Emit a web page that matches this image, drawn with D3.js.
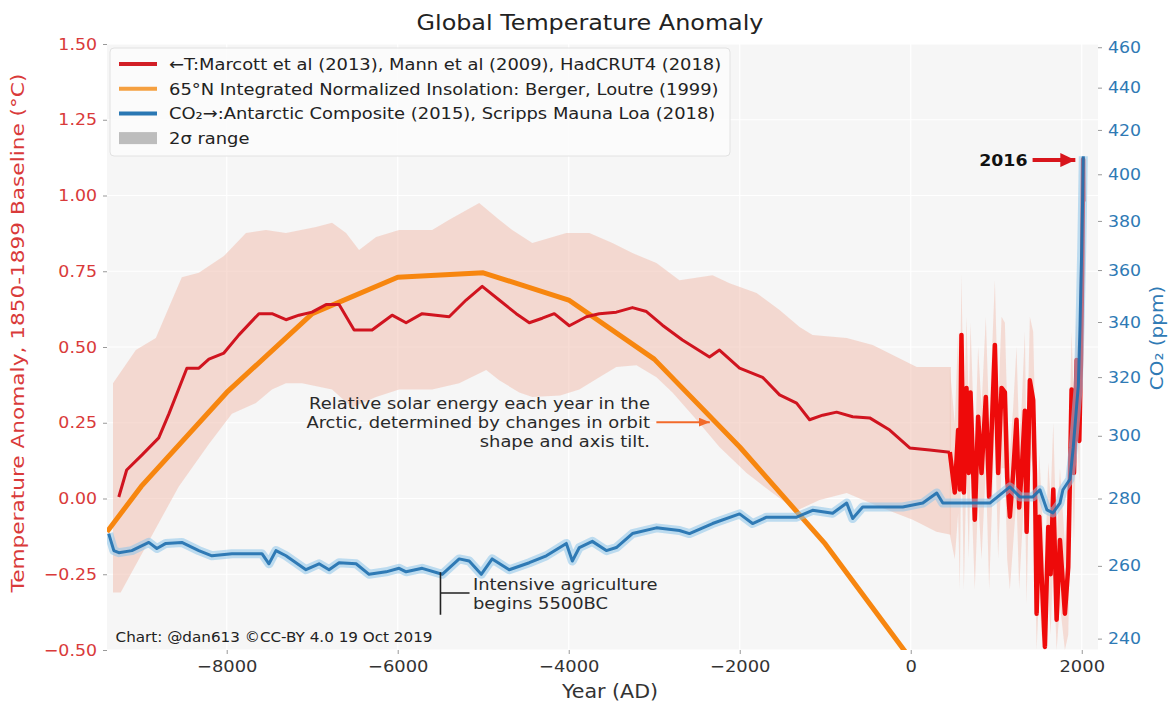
<!DOCTYPE html>
<html><head><meta charset="utf-8">
<script src="https://cdn.jsdelivr.net/npm/d3@7"></script>
<style>
body{margin:0;background:#fff;}
svg{display:block;font-family:"DejaVu Sans",sans-serif;}
</style>
</head><body>
<svg id="chart" width="1168" height="702"></svg>
<script>
// ---------------- DATA ----------------
const xDomain = [-9400, 2190];
const tempDomain = [-0.5, 1.5];
const xTicks = [-8000, -6000, -4000, -2000, 0, 2000];
const tempTicks = [-0.5, -0.25, 0, 0.25, 0.5, 0.75, 1.0, 1.25, 1.5];
const co2Ticks = [240, 260, 280, 300, 320, 340, 360, 380, 400, 420, 440, 460];

// Marcott et al (2013) temperature
const marcottYears = [-9262,-9170,-8990,-8795,-8675,-8466,-8325,-8208,-8033,-7857,-7623,-7470,-7307,-7155,-7002,-6838,-6686,-6510,-6300,-6066,-5902,-5714,-5398,-5200,-5012,-4813,-4614,-4461,-4309,-4169,-3993,-3794,-3642,-3443,-3255,-3091,-2904,-2670,-2354,-2237,-2002,-1733,-1534,-1335,-1183,-1030,-867,-679,-480,-246,-12,222,457];
const marcottTemp  = [0.005,0.094,0.144,0.20,0.28,0.43,0.43,0.46,0.48,0.54,0.61,0.61,0.59,0.605,0.615,0.64,0.64,0.556,0.556,0.605,0.58,0.61,0.60,0.655,0.70,0.655,0.61,0.58,0.595,0.61,0.57,0.60,0.61,0.615,0.63,0.617,0.572,0.523,0.467,0.49,0.43,0.40,0.342,0.315,0.26,0.275,0.285,0.27,0.266,0.226,0.167,0.16,0.153];

// Marcott 2-sigma band
const bandTopYears = [-9330,-9063,-8829,-8677,-8525,-8326,-8033,-7775,-7541,-7307,-6956,-6768,-6604,-6452,-6253,-5984,-5597,-5398,-5047,-4813,-4660,-4426,-4028,-3759,-3489,-3255,-2974,-2705,-2318,-2119,-1803,-1534,-1300,-1148,-749,-445,-164,70,470];
const bandTop      = [0.38,0.49,0.53,0.63,0.73,0.745,0.80,0.876,0.886,0.876,0.896,0.91,0.876,0.82,0.863,0.886,0.886,0.92,0.975,0.92,0.886,0.843,0.876,0.876,0.843,0.81,0.777,0.72,0.737,0.71,0.678,0.622,0.566,0.54,0.53,0.507,0.467,0.434,0.434];
const bandBotYears = [-9330,-9240,-8560,-8208,-7939,-7658,-7471,-7307,-7119,-6768,-6534,-6253,-5984,-5597,-5281,-4965,-4813,-4578,-4426,-4100,-3876,-3642,-3443,-3208,-2974,-2787,-2506,-2237,-1920,-1616,-1335,-1066,-749,-363,23,300,470];
const bandBot      = [-0.31,-0.31,0.04,0.18,0.28,0.315,0.36,0.38,0.38,0.36,0.30,0.335,0.36,0.36,0.38,0.424,0.39,0.35,0.335,0.34,0.36,0.40,0.434,0.44,0.40,0.35,0.26,0.17,0.084,0.018,-0.04,-0.005,0.018,-0.028,-0.07,-0.11,-0.12];

// Mann et al (2009) + HadCRUT4 (2018)
const recentYears = [457,515,554,574,593,621,652,679,699,749,788,828,878,917,984,1022,1062,1101,1128,1159,1198,1237,1268,1296,1335,1355,1393,1432,1452,1472,1503,1530,1569,1608,1636,1667,1706,1745,1803,1842,1881,1909,1940,1971,1990,2005,2016,2018];
const recentTemp  = [0.153,0.02,0.226,0.03,0.54,0.02,0.365,0.084,0.35,-0.07,0.27,0.084,0.335,0.005,0.507,0.084,0.365,0.35,0.07,-0.06,0.084,0.26,-0.03,0.084,0.29,-0.11,0.39,0.325,0.084,-0.38,-0.06,-0.25,-0.49,-0.094,-0.25,0.03,-0.40,-0.137,-0.38,-0.226,0.36,0.084,0.457,0.19,0.45,0.75,1.12,0.98];
const recentUpper = [0.43,0.25,0.55,0.30,0.74,0.25,0.60,0.30,0.58,0.15,0.50,0.30,0.60,0.25,0.72,0.30,0.60,0.58,0.30,0.15,0.30,0.50,0.20,0.30,0.55,0.12,0.60,0.55,0.30,-0.15,0.15,0.00,-0.25,0.12,0.00,0.25,-0.15,0.10,-0.15,0.00,0.55,0.30,0.60,0.35,0.50,0.80,1.15,1.02];
const recentLower = [-0.12,-0.20,-0.05,-0.30,0.20,-0.30,0.10,-0.20,0.10,-0.30,0.00,-0.20,0.10,-0.30,0.25,-0.20,0.10,0.10,-0.20,-0.30,-0.15,0.00,-0.30,-0.15,0.05,-0.35,0.15,0.10,-0.15,-0.50,-0.30,-0.45,-0.50,-0.30,-0.45,-0.20,-0.50,-0.35,-0.50,-0.45,0.15,-0.15,0.30,0.05,0.40,0.70,1.09,0.94];

// Berger & Loutre (1999) 65N insolation, in temperature-axis units
const insolYears = [-9400,-9000,-8000,-7000,-6000,-5000,-4000,-3000,-2000,-1000,0,1000];
const insolValue = [-0.11,0.04,0.35,0.61,0.73,0.745,0.655,0.46,0.17,-0.15,-0.53,-0.90];

// CO2 (ppm): Antarctic composite + Mauna Loa
const co2Years = [-9380,-9320,-9262,-9110,-8911,-8817,-8712,-8525,-8326,-8173,-7939,-7588,-7506,-7424,-7307,-7073,-6920,-6803,-6686,-6487,-6335,-6136,-5984,-5902,-5714,-5480,-5281,-5164,-5023,-4895,-4696,-4461,-4262,-4028,-3958,-3876,-3724,-3560,-3443,-3255,-2974,-2705,-2588,-2318,-2002,-1850,-1686,-1335,-1148,-913,-749,-679,-562,-363,-94,141,304,375,539,656,925,1159,1276,1429,1511,1593,1663,1745,1780,1862,1900,1940,1960,1980,2000,2010,2018];
const co2Values = [269.4,264.4,263.8,264.4,266.8,265.0,266.5,266.8,264.4,262.9,263.5,263.5,260.6,264.4,262.9,258.9,260.6,258.9,260.9,260.6,257.6,258.3,259.3,258.3,259.3,257.6,262.0,261.4,257.6,262.0,258.9,260.9,262.9,266.5,261.4,265.3,267.1,264.4,265.3,269.4,271.1,270.3,269.4,272.4,275.3,272.4,274.3,274.3,276.4,275.5,278.6,273.9,277.4,277.4,277.4,278.6,281.7,278.6,278.6,278.6,278.6,283.6,280.5,280.5,282.7,276.5,275.6,278.6,282.7,286,296,310,317,339,369,389,408];

// CO2 <-> temperature axis relation: T = K * ln(CO2 / BASE)
const CO2_BASE = 280, CO2_K = 3;

// Annotation texts and anchor points (data units: year, temperature)
const solarText = ["Relative solar energy each year in the", "Arctic, determined by changes in orbit", "shape and axis tilt."];
const solarAnchor = [-3050, 0.315];
const solarArrow = [-2975, -2350, 0.252];
const agriText = ["Intensive agriculture", "begins 5500BC"];
const agriBracket = [-5500, -0.243, -0.384, -0.312, -5160];
const agriAnchor = [-5120, -0.285];
const label2016 = [1365, 1.117];
const arrow2016 = [1425, 1925, 1.117];
const creditText = "Chart: @dan613 \u00A9CC-BY 4.0  19 Oct 2019";
const creditAnchor = [-9300, -0.457];

const legendItems = [
  {label: "\u2190T:Marcott et al (2013), Mann et al (2009), HadCRUT4 (2018)", type: "line", color: "#d21f26"},
  {label: "65\u00B0N Integrated Normalized Insolation: Berger, Loutre (1999)", type: "line", color: "#f5a040"},
  {label: "CO\u2082\u2192:Antarctic Composite (2015), Scripps Mauna Loa (2018)", type: "line", color: "#2a78b4"},
  {label: "2\u03C3 range", type: "patch", color: "#bdbdbd"}
];

// ---------------- DRAWING ----------------
const svg = d3.select("#chart");
const PL = 107, PR = 1098, PT = 44, PB = 650;
const SX = 1.085; // horizontal glyph stretch seen in the reference
const x = d3.scaleLinear().domain(xDomain).range([PL, PR]);
const y = d3.scaleLinear().domain(tempDomain).range([PB, PT]);
const yC = d3.scaleLog().domain(tempDomain.map(t => CO2_BASE * Math.exp(t / CO2_K))).range([PB, PT]);

const zip = (a, b) => a.map((v, i) => [v, b[i]]);
const RED = "#d0141f", RED2 = "#ee0a0a", ORANGE = "#f7860f", BLUE = "#1f6fae", TEMPCOL = "#d93a3a", CO2COL = "#2f7ab5";

function sText(parent, tx, ty, str, size, opts = {}) {
  const t = parent.append("text")
    .attr("transform", `translate(${tx},${ty}) scale(${SX},1)`)
    .attr("font-size", size).attr("fill", opts.fill || "#222")
    .attr("text-anchor", opts.anchor || "start").text(str);
  if (opts.weight) t.attr("font-weight", opts.weight);
  return t;
}
function stretchAxisText(g) {
  g.selectAll("text").each(function () {
    const t = d3.select(this);
    const tx = +t.attr("x") || 0, ty = +t.attr("y") || 0;
    t.attr("x", 0).attr("y", 0).attr("transform", `translate(${tx},${ty}) scale(${SX},1)`);
  });
}

const defs = svg.append("defs");
defs.append("clipPath").attr("id", "clip").append("rect")
  .attr("x", PL).attr("y", PT).attr("width", PR - PL).attr("height", PB - PT);
function addMarker(id, color, w, h) {
  defs.append("marker").attr("id", id).attr("markerUnits", "userSpaceOnUse")
    .attr("viewBox", `0 0 ${w} ${h}`).attr("refX", w).attr("refY", h / 2)
    .attr("markerWidth", w).attr("markerHeight", h).attr("orient", "auto")
    .append("path").attr("d", `M0,0 L${w},${h / 2} L0,${h} Z`).attr("fill", color);
}
addMarker("arrRed", "#d8151c", 15, 14);
addMarker("arrOrange", "#f26a2a", 11, 9);

// plot background
svg.append("rect").attr("x", PL).attr("y", PT).attr("width", PR - PL).attr("height", PB - PT).attr("fill", "#f6f6f6");

// grid
const grid = svg.append("g").attr("stroke", "#ffffff").attr("stroke-width", 1.2);
xTicks.forEach(t => grid.append("line").attr("x1", x(t)).attr("x2", x(t)).attr("y1", PT).attr("y2", PB));
tempTicks.forEach(t => grid.append("line").attr("x1", PL).attr("x2", PR).attr("y1", y(t)).attr("y2", y(t)));

const plot = svg.append("g").attr("clip-path", "url(#clip)");

// Marcott band (polygon from top forward + bottom reversed)
const bandPoly = zip(bandTopYears, bandTop).concat(zip(bandBotYears, bandBot).reverse());
plot.append("path")
  .attr("d", d3.line().x(d => x(d[0])).y(d => y(d[1]))(bandPoly) + "Z")
  .attr("fill", "#f2c4b8").attr("opacity", 0.6);

// recent band
plot.append("path")
  .datum(recentYears.map((yr, i) => [yr, recentLower[i], recentUpper[i]]))
  .attr("d", d3.area().x(d => x(d[0])).y0(d => y(d[1])).y1(d => y(d[2])))
  .attr("fill", "#f2c4b8").attr("opacity", 0.55);

const line = d3.line().x(d => x(d[0])).y(d => y(d[1]));

// orange insolation
plot.append("path").datum(zip(insolYears, insolValue)).attr("d", line)
  .attr("fill", "none").attr("stroke", ORANGE).attr("stroke-width", 5).attr("stroke-linejoin", "round");

// Marcott
plot.append("path").datum(zip(marcottYears, marcottTemp)).attr("d", line)
  .attr("fill", "none").attr("stroke", RED).attr("stroke-width", 3).attr("stroke-linejoin", "round");

// Mann + HadCRUT
plot.append("path").datum(zip(recentYears, recentTemp)).attr("d", line)
  .attr("fill", "none").attr("stroke", RED2).attr("stroke-width", 4.5).attr("stroke-linejoin", "round");

// CO2
const co2Line = d3.line().x(d => x(d[0])).y(d => yC(d[1]));
plot.append("path").datum(zip(co2Years, co2Values)).attr("d", co2Line)
  .attr("fill", "none").attr("stroke", "#8cc4ea").attr("stroke-width", 9).attr("opacity", 0.55).attr("stroke-linejoin", "round");
plot.append("path").datum(zip(co2Years, co2Values)).attr("d", co2Line)
  .attr("fill", "none").attr("stroke", BLUE).attr("stroke-width", 3).attr("opacity", 0.9).attr("stroke-linejoin", "round");

// ---------- annotations ----------
const ann = svg.append("g");
solarText.forEach((s, i) =>
  sText(ann, x(solarAnchor[0]), y(solarAnchor[1]) + 5.5 + i * 19, s, 16.5, {anchor: "end", fill: "#2a2a2a"}));
svg.append("line").attr("x1", x(solarArrow[0])).attr("x2", x(solarArrow[1]))
  .attr("y1", y(solarArrow[2])).attr("y2", y(solarArrow[2]))
  .attr("stroke", "#f26a2a").attr("stroke-width", 2).attr("marker-end", "url(#arrOrange)");

svg.append("path").attr("d",
  `M${x(agriBracket[0])},${y(agriBracket[1])} L${x(agriBracket[0])},${y(agriBracket[2])} M${x(agriBracket[0])},${y(agriBracket[3])} L${x(agriBracket[4])},${y(agriBracket[3])}`)
  .attr("stroke", "#222").attr("stroke-width", 1.6).attr("fill", "none");
agriText.forEach((s, i) =>
  sText(ann, x(agriAnchor[0]), y(agriAnchor[1]) + 5.5 + i * 19, s, 16.5, {fill: "#2a2a2a"}));

sText(ann, x(label2016[0]), y(label2016[1]) + 6, "2016", 16, {anchor: "end", weight: "bold", fill: "#111"});
svg.append("line").attr("x1", x(arrow2016[0])).attr("x2", x(arrow2016[1]))
  .attr("y1", y(arrow2016[2])).attr("y2", y(arrow2016[2]))
  .attr("stroke", "#d8151c").attr("stroke-width", 4).attr("marker-end", "url(#arrRed)");

sText(ann, x(creditAnchor[0]), y(creditAnchor[1]) + 5, creditText, 14, {fill: "#222"});

// ---------- legend ----------
const lg = svg.append("g");
lg.append("rect").attr("x", 110).attr("y", 48).attr("width", 620).attr("height", 108).attr("rx", 4)
  .attr("fill", "#fbfbfb").attr("fill-opacity", 0.85).attr("stroke", "#e2e2e2");
legendItems.forEach((it, i) => {
  const cy = 64 + i * 24.7;
  if (it.type === "line") {
    lg.append("line").attr("x1", 119).attr("x2", 157).attr("y1", cy).attr("y2", cy)
      .attr("stroke", it.color).attr("stroke-width", 4);
  } else {
    lg.append("rect").attr("x", 119).attr("y", cy - 6).attr("width", 38).attr("height", 12).attr("fill", it.color);
  }
  sText(lg, 169, cy + 6, it.label, 16.5, {fill: "#222"});
});

// ---------- axes ----------
const fmtT = d => d3.format(".2f")(d).replace("-", "\u2212");
const axL = svg.append("g").attr("transform", `translate(${PL},0)`)
  .call(d3.axisLeft(y).tickValues(tempTicks).tickFormat(fmtT).tickSize(4).tickPadding(6));
axL.select(".domain").remove();
axL.selectAll("line").attr("stroke", "#999");
axL.selectAll("text").attr("fill", TEMPCOL).attr("font-size", 16).attr("font-family", "DejaVu Sans");
stretchAxisText(axL);

const axR = svg.append("g").attr("transform", `translate(${PR},0)`)
  .call(d3.axisRight(yC).tickValues(co2Ticks).tickFormat(d3.format("d")).tickSize(4).tickPadding(6));
axR.select(".domain").remove();
axR.selectAll("line").attr("stroke", "#999");
axR.selectAll("text").attr("fill", CO2COL).attr("font-size", 16).attr("font-family", "DejaVu Sans");
stretchAxisText(axR);

const axB = svg.append("g").attr("transform", `translate(0,${PB})`)
  .call(d3.axisBottom(x).tickValues(xTicks).tickFormat(d => String(d).replace("-", "\u2212")).tickSize(4).tickPadding(6));
axB.select(".domain").remove();
axB.selectAll("line").attr("stroke", "#999");
axB.selectAll("text").attr("fill", "#333").attr("font-size", 16.5).attr("font-family", "DejaVu Sans");
stretchAxisText(axB);

// titles
sText(svg, 590, 30, "Global Temperature Anomaly", 22, {anchor: "middle"});
sText(svg, 610, 698, "Year (AD)", 19, {anchor: "middle", fill: "#333"});
svg.append("text").attr("transform", `translate(24,333) rotate(-90) scale(1.17,1)`).attr("text-anchor", "middle")
  .attr("font-size", 18.5).attr("fill", TEMPCOL).text("Temperature Anomaly, 1850-1899 Baseline (\u00B0C)");
svg.append("text").attr("transform", `translate(1163,338) rotate(-90) scale(1.08,1)`).attr("text-anchor", "middle")
  .attr("font-size", 18.5).attr("fill", CO2COL).text("CO\u2082 (ppm)");
</script>
</body></html>
